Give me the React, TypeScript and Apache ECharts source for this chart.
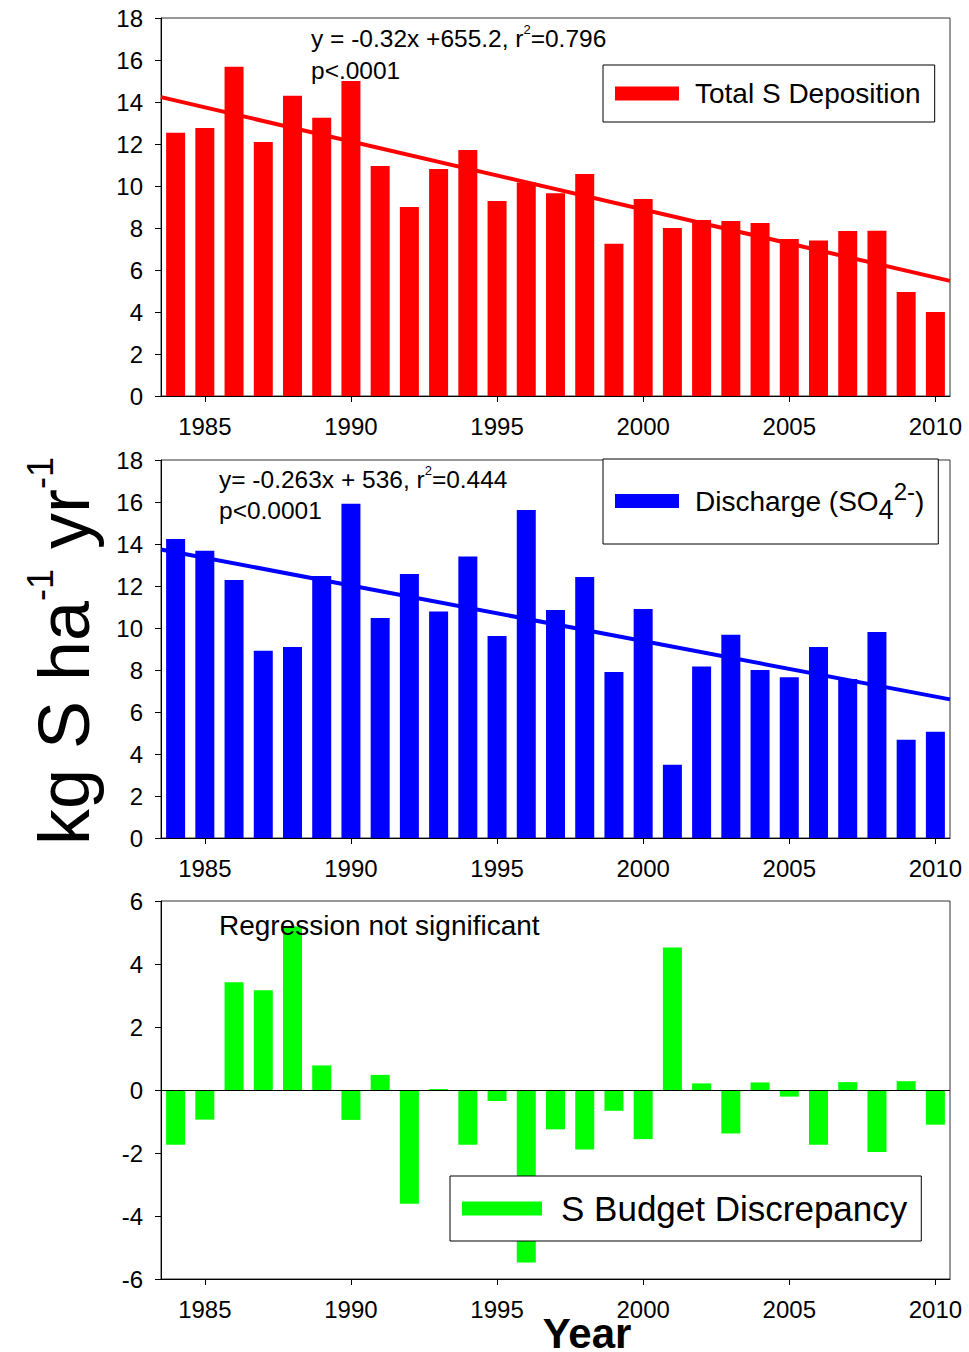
import React, { useEffect, useRef } from 'react';
import * as echarts from 'echarts';

const FONT = '"Liberation Sans", Arial, Helvetica, sans-serif';

const years = [1984, 1985, 1986, 1987, 1988, 1989, 1990, 1991, 1992, 1993, 1994, 1995, 1996, 1997, 1998, 1999, 2000, 2001, 2002, 2003, 2004, 2005, 2006, 2007, 2008, 2009, 2010];
const tickYears = [1985, 1990, 1995, 2000, 2005, 2010];

const deposition = [12.54, 12.76, 15.68, 12.1, 14.3, 13.25, 15.0, 10.95, 9.0, 10.81, 11.71, 9.29, 10.17, 9.65, 10.57, 7.25, 9.38, 8.0, 8.38, 8.33, 8.24, 7.48, 7.4, 7.86, 7.87, 4.95, 4.0];
const discharge = [14.24, 13.68, 12.29, 8.92, 9.1, 12.48, 15.92, 10.48, 12.57, 10.79, 13.41, 9.62, 15.62, 10.86, 12.43, 7.9, 10.9, 3.49, 8.17, 9.68, 8.0, 7.65, 9.1, 7.57, 9.81, 4.68, 5.06];
const discrepancy = [-1.74, -0.94, 3.42, 3.17, 5.19, 0.78, -0.95, 0.48, -3.61, 0.03, -1.74, -0.35, -5.48, -1.25, -1.89, -0.66, -1.56, 4.52, 0.21, -1.38, 0.24, -0.21, -1.74, 0.25, -1.97, 0.28, -1.1];

const trendX = [1983.5, 2010.5];
const depositionTrend = [14.23, 5.48];
const dischargeTrend = [13.74, 6.6];

const depositionName = 'Total S Deposition';
const dischargeName = 'Discharge (SO42-)';
const discrepancyName = 'S Budget Discrepancy';

const pairs = (xs: number[], ys: number[]) => xs.map((x, i) => [x, ys[i]]);

const gridBase = { left: 161, width: 789, height: 378, show: true, borderColor: '#333', borderWidth: 1, backgroundColor: 'transparent' };

const makeX = (gridIndex: number) => ({
  type: 'value',
  gridIndex,
  min: 1983.5,
  max: 2010.5,
  splitLine: { show: false },
  axisLine: { show: true, onZero: false, lineStyle: { color: '#000', width: 1 } },
  axisTick: { show: true, length: 6, customValues: tickYears, lineStyle: { color: '#000', width: 1 } },
  axisLabel: {
    customValues: tickYears,
    fontSize: 24,
    color: '#000',
    margin: 18,
    fontFamily: FONT,
    formatter: (v: number) => String(Math.round(v)),
  },
});

const makeY = (gridIndex: number, min: number, max: number) => ({
  type: 'value',
  gridIndex,
  min,
  max,
  interval: 2,
  splitLine: { show: false },
  axisLine: { show: true, onZero: false, lineStyle: { color: '#000', width: 1 } },
  axisTick: { show: true, length: 6, lineStyle: { color: '#000', width: 1 } },
  axisLabel: { fontSize: 24, color: '#000', margin: 18, fontFamily: FONT },
});

const legendBase = {
  orient: 'horizontal',
  icon: 'rect',
  selectedMode: false,
  borderColor: '#000',
  borderWidth: 1,
  backgroundColor: '#fff',
};

const textEl = (x: number, y: number, text: string, fontSize: number, extra: any = {}) => ({
  type: 'text',
  x,
  y,
  z: 50,
  style: {
    text,
    fill: '#000',
    fontSize,
    fontFamily: FONT,
    align: 'left',
    textAlign: 'left',
    verticalAlign: 'middle',
    textVerticalAlign: 'middle',
    ...extra,
  },
});

const option: any = {
  animation: false,
  backgroundColor: '#fff',
  textStyle: { fontFamily: FONT },
  grid: [
    { ...gridBase, top: 18 },
    { ...gridBase, top: 460 },
    { ...gridBase, top: 901 },
  ],
  xAxis: [makeX(0), makeX(1), makeX(2)],
  yAxis: [makeY(0, 0, 18), makeY(1, 0, 18), makeY(2, -6, 6)],
  legend: [
    {
      ...legendBase,
      data: [depositionName],
      left: 603,
      top: 65,
      itemWidth: 64,
      itemHeight: 14,
      padding: [14, 14, 14, 12],
      textStyle: { fontSize: 28, color: '#000', lineHeight: 29, padding: [0, 0, 0, 11], fontFamily: FONT },
    },
    {
      ...legendBase,
      data: [dischargeName],
      left: 603,
      top: 459,
      itemWidth: 64,
      itemHeight: 14,
      padding: [20, 14, 21, 12],
      formatter: () => '{a|Discharge (SO}{sub|4}{sup|2-}{a|)}',
      textStyle: {
        fontSize: 28,
        color: '#000',
        padding: [0, 0, 0, 11],
        fontFamily: FONT,
        rich: {
          a: { fontSize: 28, lineHeight: 44, color: '#000', fontFamily: FONT },
          sub: { fontSize: 27, lineHeight: 26, verticalAlign: 'bottom', color: '#000', fontFamily: FONT },
          sup: { fontSize: 24, lineHeight: 22, verticalAlign: 'top', color: '#000', fontFamily: FONT },
        },
      },
    },
    {
      ...legendBase,
      data: [discrepancyName],
      left: 450,
      top: 1176,
      itemWidth: 80,
      itemHeight: 14,
      padding: [14, 14, 14, 12],
      textStyle: { fontSize: 35, color: '#000', lineHeight: 37, padding: [0, 0, 0, 14], fontFamily: FONT },
    },
  ],
  series: [
    {
      type: 'bar',
      name: depositionName,
      xAxisIndex: 0,
      yAxisIndex: 0,
      barWidth: 19,
      itemStyle: { color: '#ff0000' },
      data: pairs(years, deposition),
    },
    {
      type: 'line',
      name: 'Deposition trend',
      xAxisIndex: 0,
      yAxisIndex: 0,
      symbol: 'none',
      z: 3,
      lineStyle: { color: '#ff0000', width: 4 },
      itemStyle: { color: '#ff0000' },
      data: pairs(trendX, depositionTrend),
    },
    {
      type: 'bar',
      name: dischargeName,
      xAxisIndex: 1,
      yAxisIndex: 1,
      barWidth: 19,
      itemStyle: { color: '#0000ff' },
      data: pairs(years, discharge),
    },
    {
      type: 'line',
      name: 'Discharge trend',
      xAxisIndex: 1,
      yAxisIndex: 1,
      symbol: 'none',
      z: 3,
      lineStyle: { color: '#0000ff', width: 4 },
      itemStyle: { color: '#0000ff' },
      data: pairs(trendX, dischargeTrend),
    },
    {
      type: 'bar',
      name: discrepancyName,
      xAxisIndex: 2,
      yAxisIndex: 2,
      barWidth: 19,
      itemStyle: { color: '#00ff00' },
      data: pairs(years, discrepancy),
      markLine: {
        silent: true,
        symbol: ['none', 'none'],
        label: { show: false },
        lineStyle: { color: '#000', width: 1, type: 'solid' },
        data: [{ yAxis: 0 }],
      },
    },
  ],
  graphic: [
    textEl(311, 38.4, '{m|y = -0.32x +655.2, r}{s|2}{m|=0.796}', 24.5, {
      rich: {
        m: { fontSize: 24.5, lineHeight: 31, fill: '#000', fontFamily: FONT },
        s: { fontSize: 13, lineHeight: 13, verticalAlign: 'top', fill: '#000', fontFamily: FONT },
      },
    }),
    textEl(311, 70.4, 'p<.0001', 24.5),
    textEl(219, 479.7, '{m|y= -0.263x + 536, r}{s|2}{m|=0.444}', 24.5, {
      rich: {
        m: { fontSize: 24.5, lineHeight: 31, fill: '#000', fontFamily: FONT },
        s: { fontSize: 13, lineHeight: 13, verticalAlign: 'top', fill: '#000', fontFamily: FONT },
      },
    }),
    textEl(219, 510.7, 'p<0.0001', 24.5),
    textEl(219, 925.6, 'Regression not significant', 28),
    textEl(587, 1333, 'Year', 42, { fontWeight: 'bold', align: 'center', textAlign: 'center', lineHeight: 32 }),
    {
      type: 'text',
      x: 64,
      y: 651,
      rotation: Math.PI / 2,
      z: 50,
      style: {
        text: '{m|kg S ha}{s|-1}{m| yr}{s|-1}',
        fill: '#000',
        fontFamily: FONT,
        align: 'center',
        textAlign: 'center',
        verticalAlign: 'middle',
        textVerticalAlign: 'middle',
        rich: {
          m: { fontSize: 72, lineHeight: 83, fill: '#000', fontFamily: FONT },
          s: { fontSize: 36, lineHeight: 36, verticalAlign: 'top', fill: '#000', fontFamily: FONT },
        },
      },
    },
  ],
};

export default function App() {
  const ref = useRef<HTMLDivElement>(null);
  useEffect(() => {
    if (!ref.current) return;
    const chart = echarts.init(ref.current, null, { renderer: 'svg' });
    chart.setOption(option);
    return () => chart.dispose();
  }, []);
  return (
    <div
      ref={ref}
      style={{ position: 'absolute', left: 0, top: 0, width: 969, height: 1352, background: '#fff' }}
    />
  );
}
